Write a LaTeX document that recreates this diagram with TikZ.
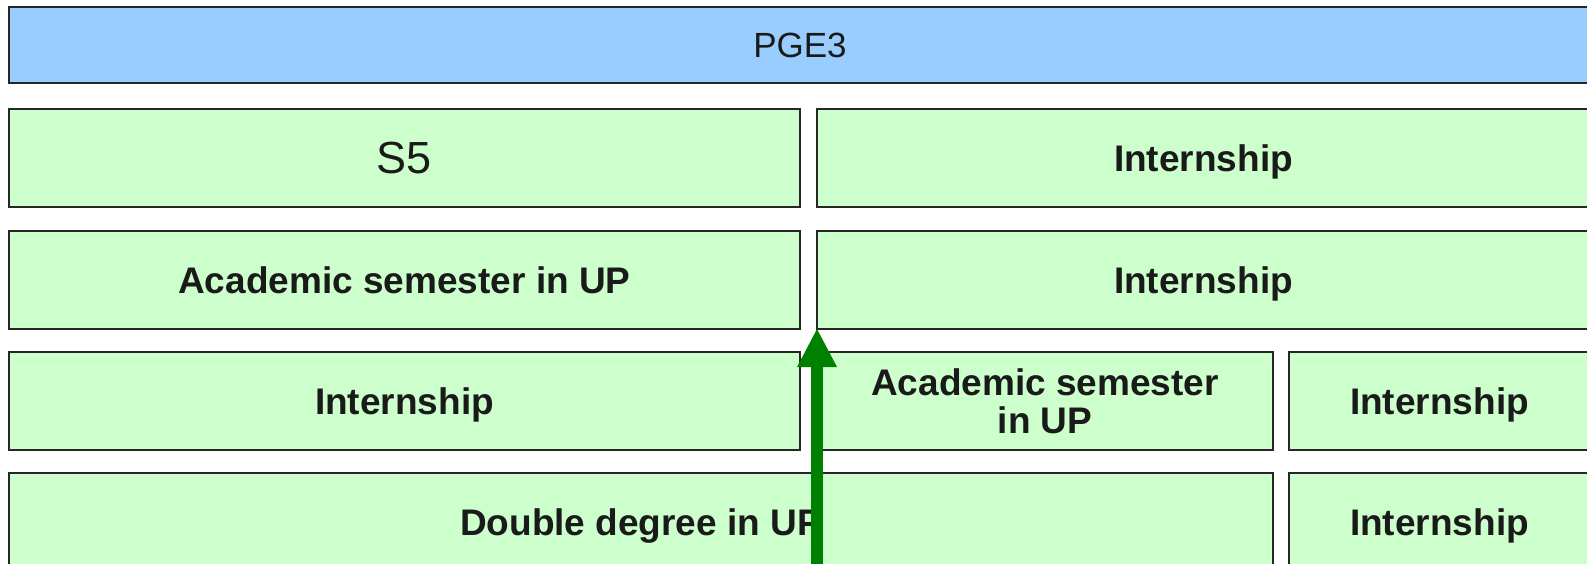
\documentclass[tikz,border=0pt]{standalone}
\usepackage{fontspec}
\setmainfont{Liberation Sans}
\usetikzlibrary{arrows.meta,positioning}

\definecolor{pgeblue}{HTML}{99CCFF}
\definecolor{semgreen}{HTML}{CCFFCC}
\definecolor{pathgreen}{HTML}{008000}
\definecolor{labelgray}{HTML}{1A1A1A}

\tikzset{
  period/.style={draw=black!85, line width=2pt, fill=semgreen, text=labelgray,
    font=\fontsize{37}{38}\selectfont\bfseries, inner sep=0pt, outer sep=0pt, align=center,
    text depth=0pt, minimum height=98pt},
  yearbar/.style={period, fill=pgeblue, font=\fontsize{35}{40}\selectfont, minimum height=76pt},
  track/.style={pathgreen, line width=12pt, -{Triangle[width=40pt,length=38pt,line width=0pt]}}
}

\begin{document}
\begin{tikzpicture}[x=1pt,y=-1pt]
  \useasboundingbox (0,0) rectangle (1587,563);
  \clip (0,0) rectangle (1587,563);

  \node[yearbar, anchor=north west, minimum width=1582pt] (pge3) at (9,7) {PGE3};

  \node[period, minimum width=791pt, font=\fontsize{45}{54}\selectfont] (s5)   [below right=26pt and 0pt of pge3.south west] {S5};
  \node[period, minimum width=773pt] (intern1) [below right=0pt and 17pt of s5.north east]    {Internship};

  \node[period, minimum width=791pt] (acad1)   [below right=24pt and 0pt of s5.south west]    {Academic semester in UP};
  \node[period, minimum width=773pt] (intern2) [below right=0pt and 17pt of acad1.north east] {Internship};

  \node[period, minimum width=791pt] (intern3) [below right=23pt and 0pt of acad1.south west] {Internship};
  \node[period, minimum width=456pt] (acad2)   [below right=0pt and 17pt of intern3.north east] {Academic semester\\in UP};
  \node[period, minimum width=301pt] (intern4) [below right=0pt and 16pt of acad2.north east]   {Internship};

  \node[period, minimum width=1264pt] (double) [below right=23pt and 0pt of intern3.south west] {Double degree in UP};
  \node[period, minimum width=301pt] (intern5) [below right=0pt and 16pt of double.north east]  {Internship};

  % path taken by the student
  \coordinate (trackstart) at ([yshift=-280pt]intern2.south west);
  \draw[track] (trackstart) -- (intern2.south west);
\end{tikzpicture}
\end{document}
